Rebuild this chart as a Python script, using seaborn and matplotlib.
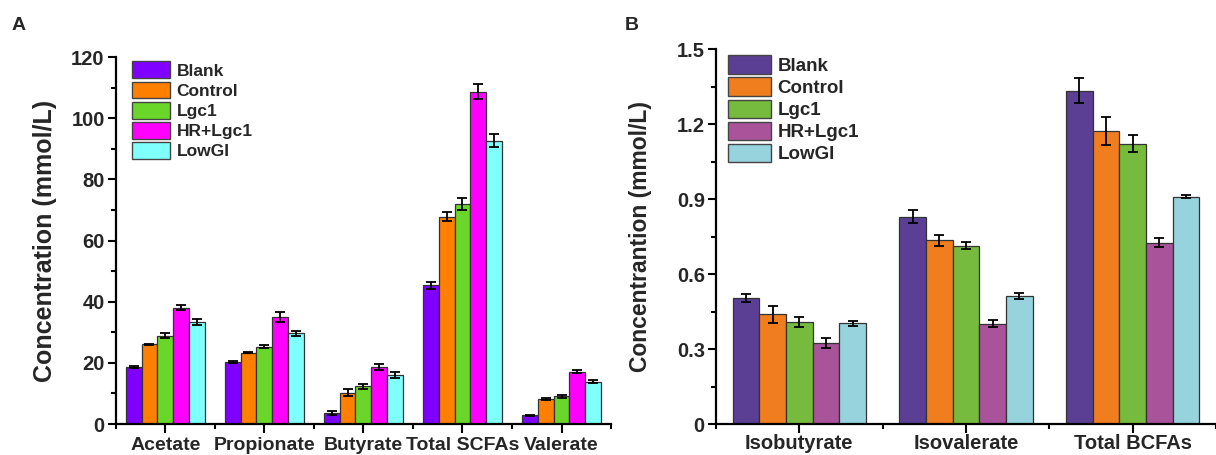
import numpy as np
import pandas as pd
import matplotlib
matplotlib.use("Agg")
import matplotlib.pyplot as plt
from matplotlib.ticker import MultipleLocator, FixedLocator, FuncFormatter
import seaborn as sns

# ---------------- data ----------------
groups = ["Blank", "Control", "Lgc1", "HR+Lgc1", "LowGI"]

# panel A: SCFAs (mmol/L)
acids_a = ["Acetate", "Propionate", "Butyrate", "Total SCFAs", "Valerate"]
blank_a = [18.6, 20.3, 3.6, 45.3, 2.9]
control_a = [26.1, 23.3, 10.3, 67.8, 8.2]
lgc1_a = [28.9, 25.3, 12.3, 71.9, 9.1]
hr_lgc1_a = [38.0, 35.0, 18.7, 108.7, 17.1]
lowgi_a = [33.4, 29.6, 16.0, 92.7, 13.8]

blank_a_err = [0.3, 0.3, 0.6, 1.0, 0.2]
control_a_err = [0.2, 0.2, 1.0, 1.4, 0.4]
lgc1_a_err = [0.8, 0.4, 0.8, 2.0, 0.5]
hr_lgc1_a_err = [0.8, 1.5, 1.0, 2.5, 0.4]
lowgi_a_err = [1.0, 0.8, 1.1, 2.2, 0.5]

# panel B: BCFAs (mmol/L)
acids_b = ["Isobutyrate", "Isovalerate", "Total BCFAs"]
blank_b = [0.503, 0.830, 1.334]
control_b = [0.439, 0.735, 1.172]
lgc1_b = [0.408, 0.714, 1.122]
hr_lgc1_b = [0.324, 0.402, 0.726]
lowgi_b = [0.403, 0.512, 0.910]

blank_b_err = [0.016, 0.027, 0.050]
control_b_err = [0.033, 0.022, 0.056]
lgc1_b_err = [0.019, 0.013, 0.035]
hr_lgc1_b_err = [0.021, 0.015, 0.017]
lowgi_b_err = [0.011, 0.011, 0.005]

colors_a = ["#8000FF", "#FF8000", "#6AD62A", "#FF00FF", "#80FFFF"]
colors_b = ["#5B3F95", "#F07E1E", "#77BB3E", "#A8539A", "#96D3DD"]

# ---------------- style ----------------
sns.set_style("ticks")
plt.rcParams['font.family'] = ['Liberation Sans', 'DejaVu Sans']
plt.rcParams['font.weight'] = 'bold'
plt.rcParams['axes.labelweight'] = 'bold'


def long_form(acids, series, errs):
    rows = []
    for g, vals, es in zip(groups, series, errs):
        for a, v, e in zip(acids, vals, es):
            rows.append({"acid": a, "group": g, "value": v, "err": e})
    return pd.DataFrame(rows)


def draw_panel(ax, df, acids, palette, ylim, major, minor, tick_fs, xlab_fs, xpad,
               ylab, ylab_fs, leg_fs, leg_anchor, leg_hl, leg_hh, leg_sp, fmt):
    sns.barplot(data=df, x="acid", y="value", hue="group", order=acids,
                hue_order=groups, palette=palette, saturation=1, errorbar=None,
                edgecolor="#333333", linewidth=0.9, width=0.8, ax=ax)

    # error bars from the drawn bars
    for cont, g in zip(ax.containers, groups):
        sub = df[df["group"] == g].set_index("acid").loc[acids]
        xs = [b.get_x() + b.get_width() / 2 for b in cont]
        ys = [b.get_height() for b in cont]
        ax.errorbar(xs, ys, yerr=sub["err"].values, fmt="none", ecolor="black",
                    elinewidth=1.3, capsize=3.5, capthick=1.3, zorder=5)

    ax.set_xlim(-0.5, len(acids) - 0.5)
    ax.set_ylim(*ylim)
    ax.yaxis.set_major_locator(MultipleLocator(major))
    ax.yaxis.set_minor_locator(MultipleLocator(minor))
    ax.yaxis.set_major_formatter(FuncFormatter(fmt))
    ax.xaxis.set_minor_locator(FixedLocator(np.arange(-0.5, len(acids), 1.0)))

    sns.despine(ax=ax)
    for s in ["left", "bottom"]:
        ax.spines[s].set_linewidth(1.6)
        ax.spines[s].set_color("black")
    ax.tick_params(which="major", length=6, width=1.5, color="black", pad=2)
    ax.tick_params(which="minor", length=3.5, width=1.5, color="black")
    ax.tick_params(axis="x", which="major", length=6.5, labelsize=xlab_fs, pad=xpad)
    ax.tick_params(axis="y", labelsize=tick_fs)
    for lbl in ax.get_xticklabels() + ax.get_yticklabels():
        lbl.set_fontweight("bold")

    ax.set_xlabel("")
    ax.set_ylabel(ylab, fontsize=ylab_fs, fontweight="bold")

    handles, labels = ax.get_legend_handles_labels()
    ax.legend(handles, labels, loc="upper left", bbox_to_anchor=leg_anchor,
              frameon=False, handlelength=leg_hl,
              handleheight=leg_hh, labelspacing=leg_sp, handletextpad=0.35,
              borderpad=0, borderaxespad=0,
              prop={"weight": "bold", "size": leg_fs})
    for h in ax.get_legend().legend_handles:
        h.set_edgecolor("#444444")
        h.set_linewidth(1.0)


df_a = long_form(acids_a, [blank_a, control_a, lgc1_a, hr_lgc1_a, lowgi_a],
                 [blank_a_err, control_a_err, lgc1_a_err, hr_lgc1_a_err, lowgi_a_err])
df_b = long_form(acids_b, [blank_b, control_b, lgc1_b, hr_lgc1_b, lowgi_b],
                 [blank_b_err, control_b_err, lgc1_b_err, hr_lgc1_b_err, lowgi_b_err])

fig = plt.figure(figsize=(12.16, 4.55), dpi=100)
ax_a = fig.add_axes([0.0952, 0.0681, 0.4073, 0.8066])
ax_b = fig.add_axes([0.5888, 0.0681, 0.4112, 0.8235])

draw_panel(ax_a, df_a, acids_a, colors_a, (0, 120), 20, 10, 14.5, 14, 2.5,
           "Concentration (mmol/L)", 18, 12.5, (0.033, 0.988), 2.2, 1.12, 0.16,
           lambda v, p: f"{v:.0f}")
draw_panel(ax_b, df_b, acids_b, colors_b, (0, 1.5), 0.3, 0.15, 14.5, 14.5, 1,
           "Concentrantion (mmol/L)", 16.5, 13.5, (0.024, 0.984), 2.3, 1.12, 0.14,
           lambda v, p: "0" if abs(v) < 1e-9 else f"{v:.1f}")

ax_a.yaxis.set_label_coords(-0.118, 0.5)
ax_b.yaxis.set_label_coords(-0.128, 0.5)

fig.text(0.0152, 0.943, "A", fontsize=14, fontweight="bold", ha="center", va="center")
fig.text(0.5197, 0.943, "B", fontsize=14, fontweight="bold", ha="center", va="center")

fig.savefig("out.png", dpi=100)
